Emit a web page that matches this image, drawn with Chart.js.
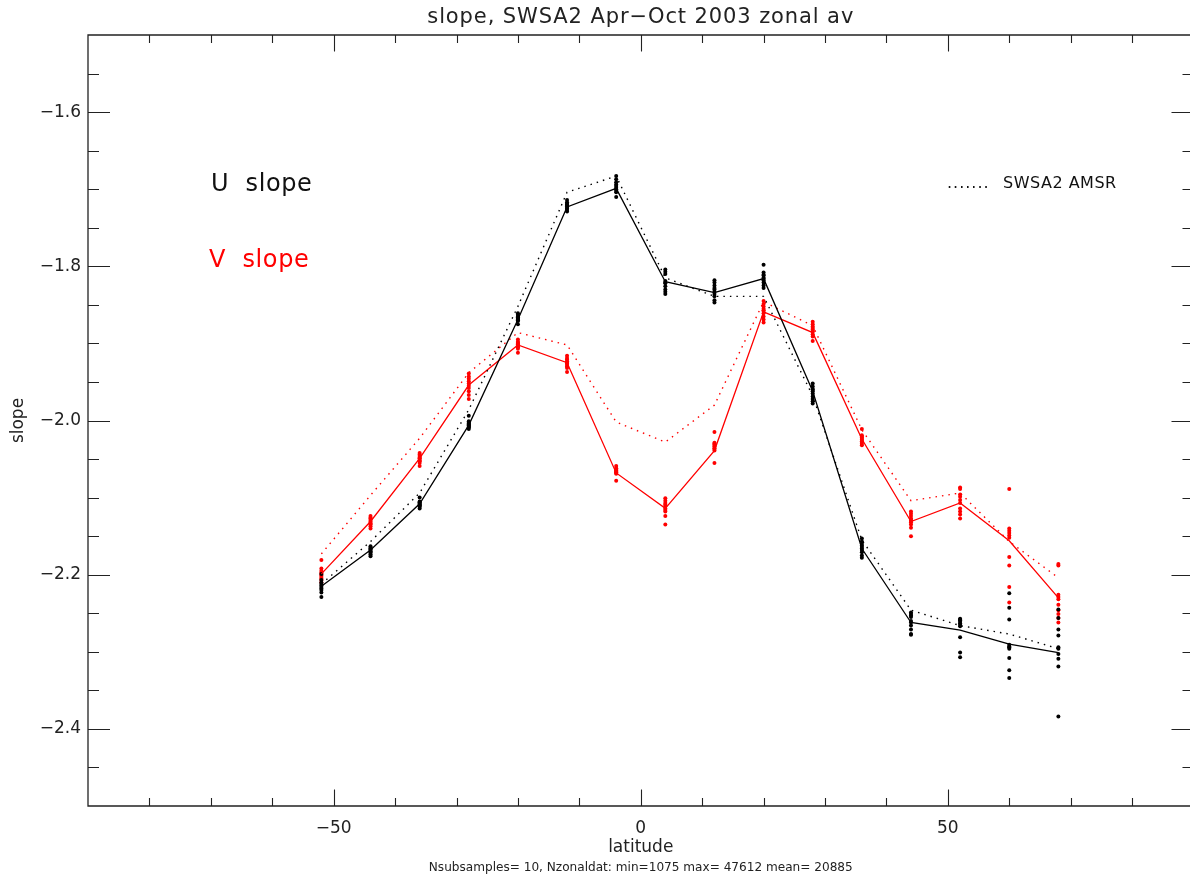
<!DOCTYPE html>
<html>
<head>
<meta charset="utf-8">
<script src="https://cdn.jsdelivr.net/npm/chart.js@4/dist/chart.umd.min.js"></script>
<style>
html,body{margin:0;padding:0;background:#fff;overflow:hidden;width:1190px;height:878px;}
canvas{display:block;}
</style>
</head>
<body>
<canvas id="c" width="1200" height="878"></canvas>
<script>
const latitudes = [-52,-44,-36,-28,-20,-12,-4,4,12,20,28,36,44,52,60,68];
const uSlope = [-2.215,-2.168,-2.108,-2.006,-1.869,-1.723,-1.699,-1.820,-1.834,-1.816,-1.962,-2.166,-2.262,-2.272,-2.290,-2.301];
const uSlopeAMSR = [-2.212,-2.157,-2.094,-1.986,-1.852,-1.704,-1.683,-1.815,-1.839,-1.839,-1.968,-2.155,-2.246,-2.266,-2.277,-2.296];
const vSlope = [-2.199,-2.131,-2.049,-1.954,-1.902,-1.925,-2.068,-2.114,-2.039,-1.859,-1.886,-2.024,-2.131,-2.107,-2.156,-2.230];
const vSlopeAMSR = [-2.173,-2.097,-2.023,-1.938,-1.886,-1.902,-2.002,-2.028,-1.980,-1.846,-1.877,-2.012,-2.104,-2.094,-2.157,-2.204];

const uSamples = [
  [-2.199,-2.207,-2.210,-2.212,-2.214,-2.216,-2.218,-2.220,-2.223,-2.229],
  [-2.163,-2.165,-2.166,-2.167,-2.169,-2.170,-2.171,-2.173,-2.174,-2.176],
  [-2.100,-2.105,-2.106,-2.107,-2.108,-2.109,-2.110,-2.111,-2.112,-2.114],
  [-1.994,-2.001,-2.003,-2.004,-2.005,-2.006,-2.007,-2.008,-2.009,-2.011],
  [-1.861,-1.863,-1.865,-1.866,-1.867,-1.868,-1.869,-1.870,-1.871,-1.875],
  [-1.714,-1.717,-1.719,-1.720,-1.721,-1.722,-1.724,-1.725,-1.727,-1.729],
  [-1.683,-1.687,-1.691,-1.694,-1.696,-1.698,-1.700,-1.702,-1.704,-1.710],
  [-1.804,-1.807,-1.810,-1.819,-1.821,-1.822,-1.826,-1.830,-1.833,-1.836],
  [-1.818,-1.821,-1.825,-1.828,-1.830,-1.833,-1.836,-1.839,-1.844,-1.847],
  [-1.798,-1.808,-1.811,-1.812,-1.815,-1.816,-1.818,-1.821,-1.825,-1.828],
  [-1.952,-1.956,-1.959,-1.960,-1.962,-1.965,-1.969,-1.972,-1.975,-1.978],
  [-2.153,-2.157,-2.160,-2.162,-2.164,-2.166,-2.168,-2.171,-2.175,-2.178],
  [-2.249,-2.251,-2.253,-2.255,-2.260,-2.262,-2.266,-2.271,-2.277,-2.278],
  [-2.257,-2.258,-2.259,-2.261,-2.263,-2.265,-2.267,-2.281,-2.301,-2.307],
  [-2.224,-2.243,-2.258,-2.291,-2.293,-2.294,-2.296,-2.308,-2.324,-2.334],
  [-2.245,-2.256,-2.271,-2.279,-2.294,-2.296,-2.303,-2.309,-2.319,-2.384]
];
const vSamples = [
  [-2.181,-2.192,-2.195,-2.197,-2.199,-2.201,-2.203,-2.205,-2.207,-2.210],
  [-2.124,-2.126,-2.127,-2.129,-2.131,-2.133,-2.134,-2.135,-2.137,-2.140],
  [-2.042,-2.044,-2.046,-2.048,-2.049,-2.050,-2.052,-2.053,-2.055,-2.059],
  [-1.939,-1.943,-1.946,-1.949,-1.952,-1.955,-1.958,-1.962,-1.967,-1.972],
  [-1.895,-1.898,-1.899,-1.900,-1.901,-1.903,-1.904,-1.905,-1.907,-1.912],
  [-1.916,-1.919,-1.921,-1.923,-1.925,-1.926,-1.928,-1.930,-1.932,-1.937],
  [-2.059,-2.062,-2.063,-2.064,-2.065,-2.066,-2.067,-2.068,-2.069,-2.078],
  [-2.101,-2.104,-2.107,-2.109,-2.111,-2.114,-2.116,-2.118,-2.124,-2.135],
  [-2.015,-2.029,-2.030,-2.031,-2.033,-2.034,-2.036,-2.037,-2.039,-2.055],
  [-1.845,-1.849,-1.852,-1.855,-1.857,-1.858,-1.861,-1.865,-1.869,-1.873],
  [-1.872,-1.875,-1.878,-1.880,-1.882,-1.884,-1.885,-1.888,-1.891,-1.897],
  [-2.011,-2.019,-2.021,-2.022,-2.024,-2.025,-2.027,-2.028,-2.030,-2.032],
  [-2.118,-2.121,-2.124,-2.127,-2.129,-2.130,-2.132,-2.135,-2.139,-2.150],
  [-2.087,-2.089,-2.096,-2.099,-2.103,-2.107,-2.114,-2.118,-2.122,-2.127],
  [-2.089,-2.140,-2.143,-2.146,-2.149,-2.152,-2.177,-2.188,-2.216,-2.236],
  [-2.186,-2.188,-2.226,-2.229,-2.232,-2.239,-2.246,-2.251,-2.256,-2.262]
];

const xMajorTicks = [-50, 0, 50];
const xMinorTicks = [-80,-70,-60,-40,-30,-20,-10,10,20,30,40,60,70,80];
const yMajorTicks = [-1.6,-1.8,-2.0,-2.2,-2.4];
const yMinorTicks = [-1.55,-1.65,-1.7,-1.75,-1.85,-1.9,-1.95,-2.05,-2.1,-2.15,-2.25,-2.3,-2.35,-2.45];

const titleText = 'slope, SWSA2 Apr\u2212Oct 2003 zonal av';
const xTitle = 'latitude';
const yTitle = 'slope';
const noteText = 'Nsubsamples= 10, Nzonaldat: min=1075 max= 47612 mean= 20885';
const uLabel = 'U  slope';
const vLabel = 'V  slope';
const amsrLabel = 'SWSA2 AMSR';

const FONT = 'DejaVu Sans';

function pts(ys){ return latitudes.map((x,i)=>({x:x,y:ys[i]})); }
function samplePts(arr){ const out=[]; arr.forEach((col,i)=>col.forEach(v=>out.push({x:latitudes[i],y:v}))); return out; }
function fmt(v, d){ const s = Math.abs(v).toFixed(d); return (v < 0 ? '\u2212' : '') + s; }
function setLS(ctx, v){ try { ctx.letterSpacing = v; } catch(e) {} }

const frame = {
  id: 'frame',
  afterDatasetsDraw(chart){
    const ctx = chart.ctx, a = chart.chartArea, xs = chart.scales.x, ys = chart.scales.y;
    ctx.save();
    ctx.strokeStyle = '#222';
    ctx.lineWidth = 1.3;
    ctx.beginPath();
    ctx.rect(a.left, a.top, a.right - a.left, a.bottom - a.top);
    ctx.stroke();
    ctx.lineWidth = 1.1;
    ctx.beginPath();
    const xt = (vals, len) => vals.forEach(v => {
      const px = Math.round(xs.getPixelForValue(v)) + 0.5;
      ctx.moveTo(px, a.bottom); ctx.lineTo(px, a.bottom - len);
      ctx.moveTo(px, a.top); ctx.lineTo(px, a.top + len);
    });
    const yt = (vals, len) => vals.forEach(v => {
      const py = Math.round(ys.getPixelForValue(v)) + 0.5;
      ctx.moveTo(a.left, py); ctx.lineTo(a.left + len, py);
      ctx.moveTo(a.right, py); ctx.lineTo(a.right - len, py);
    });
    xt(xMajorTicks, 16.5); xt(xMinorTicks, 8);
    yt(yMajorTicks, 22); yt(yMinorTicks, 11);
    ctx.stroke();

    ctx.fillStyle = '#222';
    ctx.textBaseline = 'middle';
    ctx.textAlign = 'center';
    const cx = (a.left + a.right) / 2;
    ctx.font = '21px "' + FONT + '"';
    setLS(ctx, '0.9px');
    ctx.fillText(titleText, cx, 18);
    setLS(ctx, '0px');
    ctx.font = '17px "' + FONT + '"';
    ctx.fillText(xTitle, cx, 848);
    ctx.font = '12.1px "' + FONT + '"';
    ctx.fillText(noteText, cx, 868);
    ctx.save();
    ctx.translate(19, (a.top + a.bottom) / 2);
    ctx.rotate(-Math.PI / 2);
    ctx.font = '17px "' + FONT + '"';
    ctx.fillText(yTitle, 0, 0);
    ctx.restore();

    ctx.textAlign = 'left';
    ctx.textBaseline = 'alphabetic';
    ctx.font = '24px "' + FONT + '"';
    setLS(ctx, '0.6px');
    ctx.fillStyle = '#111';
    ctx.fillText(uLabel, 211, 191);
    ctx.fillStyle = '#ff0000';
    ctx.fillText(vLabel, 209, 267);
    ctx.fillStyle = '#111';
    ctx.font = '16px "' + FONT + '"';
    setLS(ctx, '1px');
    ctx.fillText('.......', 947, 188);
    setLS(ctx, '0.5px');
    ctx.fillText(amsrLabel, 1003, 188);
    setLS(ctx, '0px');
    ctx.restore();
  }
};

new Chart(document.getElementById('c'), {
  type: 'scatter',
  data: {
    datasets: [
      { label: 'U slope', type: 'line', data: pts(uSlope), borderColor: '#000', borderWidth: 1.3, pointRadius: 0, fill: false, tension: 0 },
      { label: 'U slope AMSR', type: 'line', data: pts(uSlopeAMSR), borderColor: '#000', borderWidth: 1.4, borderDash: [1.5, 5], pointRadius: 0, fill: false, tension: 0 },
      { label: 'V slope', type: 'line', data: pts(vSlope), borderColor: '#ff0000', borderWidth: 1.3, pointRadius: 0, fill: false, tension: 0 },
      { label: 'V slope AMSR', type: 'line', data: pts(vSlopeAMSR), borderColor: '#ff0000', borderWidth: 1.4, borderDash: [1.5, 5], pointRadius: 0, fill: false, tension: 0 },
      { label: 'U samples', data: samplePts(uSamples), backgroundColor: '#000', borderWidth: 0, pointRadius: 2, showLine: false },
      { label: 'V samples', data: samplePts(vSamples), backgroundColor: '#ff0000', borderWidth: 0, pointRadius: 2, showLine: false }
    ]
  },
  options: {
    responsive: false,
    animation: false,
    devicePixelRatio: 1,
    layout: { padding: { top: 35, right: 6.5, left: 0, bottom: 0 } },
    plugins: { legend: { display: false }, tooltip: { enabled: false }, title: { display: false } },
    scales: {
      x: {
        type: 'linear', position: 'bottom', min: -90, max: 90,
        grid: { display: false, drawTicks: false }, border: { display: false },
        afterBuildTicks: s => { s.ticks = xMajorTicks.map(v => ({ value: v })); },
        afterFit: s => { s.height = 72; },
        ticks: { font: { family: FONT, size: 17 }, color: '#222', padding: 12, maxRotation: 0, autoSkip: false,
                 callback: v => fmt(v, 0) }
      },
      y: {
        type: 'linear', position: 'left', min: -2.5, max: -1.5,
        grid: { display: false, drawTicks: false }, border: { display: false },
        afterBuildTicks: s => { s.ticks = yMajorTicks.map(v => ({ value: v })); },
        afterFit: s => { s.width = 88; },
        ticks: { font: { family: FONT, size: 17 }, color: '#222', padding: 7, autoSkip: false,
                 callback: v => fmt(v, 1) }
      }
    }
  },
  plugins: [frame]
});
</script>
</body>
</html>
